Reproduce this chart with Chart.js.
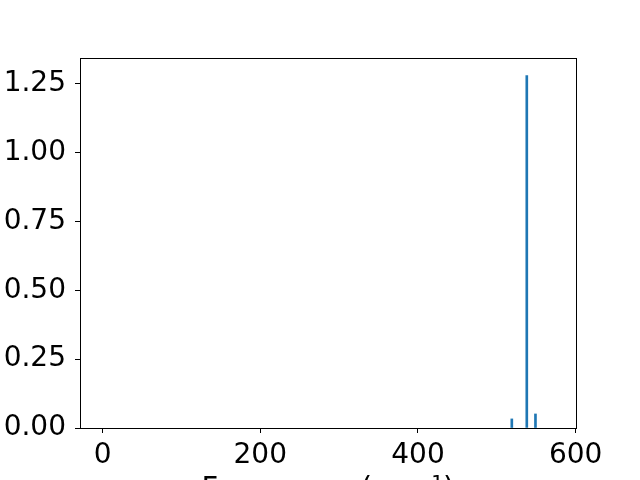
<!DOCTYPE html>
<html>
<head>
<meta charset="utf-8">
<script src="https://cdn.jsdelivr.net/npm/chart.js@4/dist/chart.umd.min.js"></script>
<style>
html,body{margin:0;padding:0;background:#fff;}
#wrap{width:640px;height:480px;position:relative;}
</style>
</head>
<body>
<div id="wrap"><canvas id="c" width="640" height="480"></canvas></div>
<script>
// Data
const frequencies = [519, 538, 549];
const intensities = [0.033, 1.28, 0.051];
const xTicks = [0, 200, 400, 600];
const yTicks = [0, 0.25, 0.5, 0.75, 1.0, 1.25];
const xLabel = 'Frequency (cm\u207B\u00B9)';

const FONT = "'DejaVu Sans', sans-serif";
const points = frequencies.map((f, i) => ({x: f, y: intensities[i]}));

const framePlugin = {
  id: 'frame',
  afterDatasetsDraw(chart) {
    const {ctx, chartArea: a} = chart;
    ctx.save();
    ctx.strokeStyle = '#000';
    ctx.lineWidth = 1;
    ctx.strokeRect(Math.round(a.left) + 0.5, Math.round(a.top) + 0.5,
                   Math.round(a.right - a.left), Math.round(a.bottom - a.top));
    ctx.restore();
  }
};

new Chart(document.getElementById('c'), {
  type: 'bar',
  data: {
    datasets: [{
      data: points,
      backgroundColor: '#1f77b4',
      borderWidth: 0,
      barThickness: 2
    }]
  },
  options: {
    responsive: false,
    animation: false,
    devicePixelRatio: 1,
    layout: {padding: {top: 58, right: 64, left: 0, bottom: 0}},
    plugins: {legend: {display: false}, tooltip: {enabled: false}},
    scales: {
      x: {
        type: 'linear',
        min: -28.6,
        max: 600.4,
        offset: false,
        afterFit(s) { s.height = 52; },
        afterBuildTicks(s) { s.ticks = xTicks.map(v => ({value: v})); },
        border: {display: false},
        grid: {display: true, offset: false, drawOnChartArea: false, drawTicks: true, tickLength: 5, color: '#000', lineWidth: 1},
        ticks: {
          font: {family: FONT, size: 28},
          color: '#000',
          padding: 6,
          maxRotation: 0,
          autoSkip: false,
          callback: v => String(v)
        },
        title: {
          display: true,
          text: xLabel,
          font: {family: FONT, size: 29},
          color: '#000',
          padding: {top: 0, bottom: -27}
        }
      },
      y: {
        type: 'linear',
        min: 0,
        max: 1.344,
        afterFit(s) { s.width = 80; },
        afterBuildTicks(s) { s.ticks = yTicks.map(v => ({value: v})); },
        border: {display: false},
        grid: {display: true, offset: false, drawOnChartArea: false, drawTicks: true, tickLength: 5, color: '#000', lineWidth: 1},
        ticks: {
          font: {family: FONT, size: 28},
          color: '#000',
          padding: 9,
          autoSkip: false,
          callback: v => Number(v).toFixed(2)
        }
      }
    }
  },
  plugins: [framePlugin]
});
</script>
</body>
</html>
